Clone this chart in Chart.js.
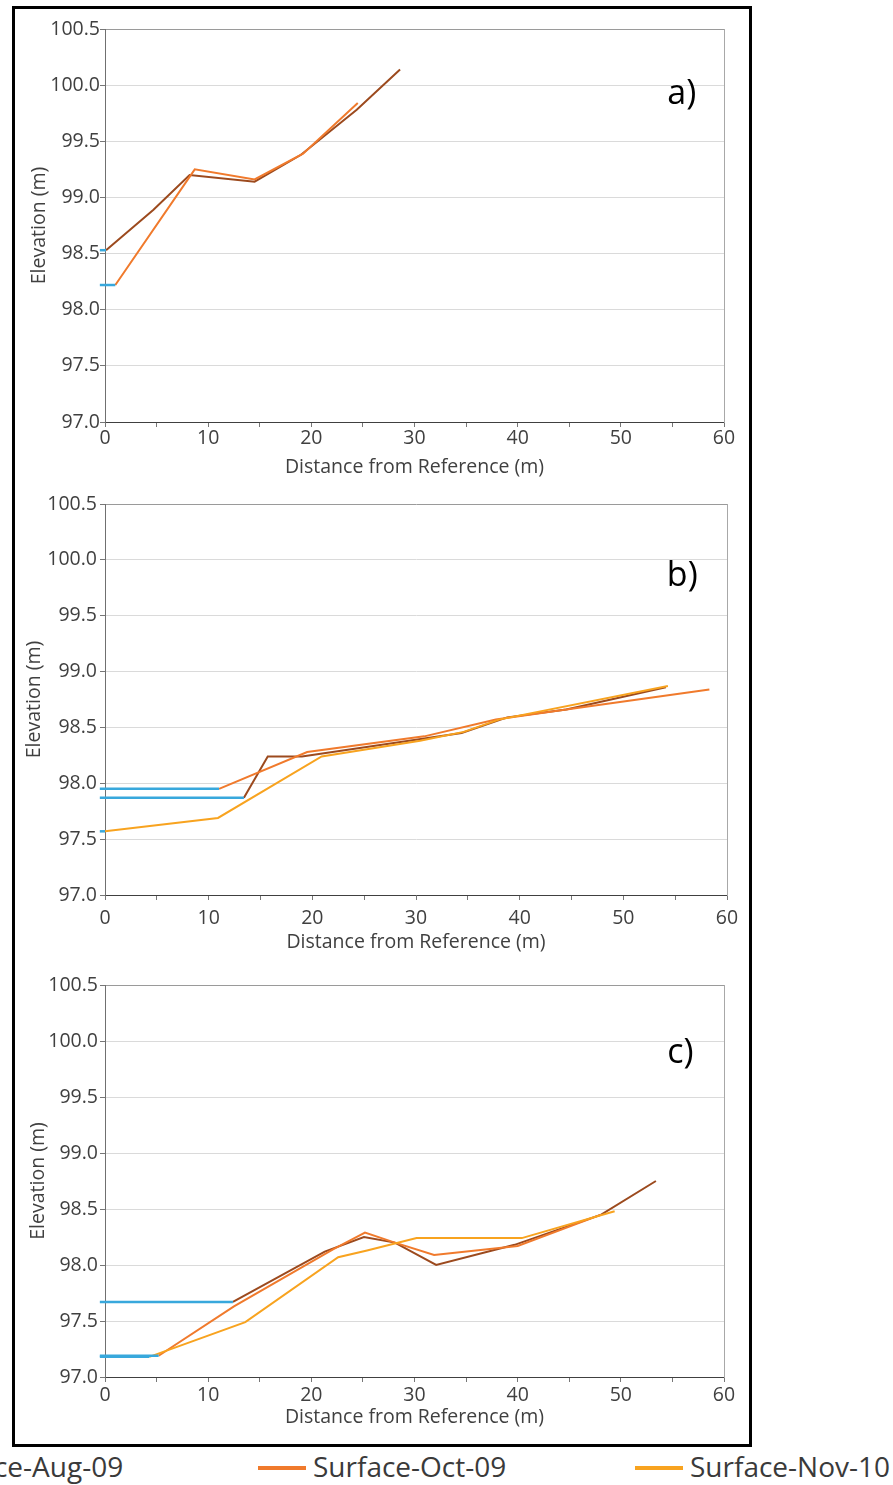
<!DOCTYPE html>
<html>
<head>
<meta charset="utf-8">
<script src="https://cdn.jsdelivr.net/npm/chart.js@4.4.1/dist/chart.umd.min.js"></script>
<style>
  html, body { margin: 0; padding: 0; background: #fff; width: 893px; height: 1485px; overflow: hidden; position: relative; }
  #frame { position: absolute; left: 12px; top: 6px; width: 734px; height: 1435px; border: 3px solid #000; }
  canvas { position: absolute; left: 16px; }
  .lg-line { position: absolute; top: 1466px; width: 48px; height: 4px; }
  .lg-text { position: absolute; top: 1450px; font: 28px/1.2 'Open Sans', sans-serif; color: #3a3a3a; white-space: nowrap; }
</style>
</head>
<body>
<div id="frame"></div>
<canvas id="chartA" width="732" height="478" style="top:10px"></canvas>
<canvas id="chartB" width="732" height="482" style="top:488px"></canvas>
<canvas id="chartC" width="732" height="474" style="top:970px"></canvas>
<div id="legend"></div>
<script>
const seriesNames = ['Surface-Aug-09', 'Surface-Oct-09', 'Surface-Nov-10'];
const seriesColors = ['#9c4a1e', '#f07a2c', '#f8a31f'];
const waterColor = '#38a8dc';
const waterStartX = -0.5;   // water line starts just behind the reference pin

const distRange = [0, 60];
const elevRange = [97, 100.5];

// a)
const distA_Aug = [0.1, 4.7, 8.2, 14.5, 19.0, 24.4, 28.6];
const elevA_Aug = [98.53, 98.89, 99.20, 99.14, 99.38, 99.78, 100.14];
const distA_Oct = [1.0, 8.7, 14.5, 19.2, 24.5];
const elevA_Oct = [98.22, 99.25, 99.16, 99.39, 99.84];

// b)
const distB_Aug = [13.4, 15.7, 19.0, 30.8, 34.4, 38.8, 44.5, 54.1];
const elevB_Aug = [97.87, 98.24, 98.24, 98.40, 98.45, 98.59, 98.66, 98.86];
const distB_Oct = [11.0, 19.5, 30.8, 37.7, 44.5, 58.3];
const elevB_Oct = [97.95, 98.28, 98.42, 98.57, 98.66, 98.84];
const distB_Nov = [0, 10.9, 20.9, 30.4, 34.6, 38.0, 54.3];
const elevB_Nov = [97.57, 97.69, 98.24, 98.38, 98.46, 98.57, 98.87];

// c)
const distC_Aug = [12.4, 21.3, 25.1, 28.1, 32.1, 39.7, 48.1, 53.4];
const elevC_Aug = [97.67, 98.12, 98.25, 98.20, 98.00, 98.18, 98.45, 98.75];
const distC_Oct = [5.2, 12.5, 22.1, 25.2, 28.1, 31.9, 40.0, 48.1];
const elevC_Oct = [97.19, 97.63, 98.14, 98.29, 98.20, 98.09, 98.17, 98.45];
const distC_Nov = [4.3, 13.6, 22.6, 25.4, 30.2, 40.4, 49.4];
const elevC_Nov = [97.18, 97.49, 98.07, 98.13, 98.24, 98.24, 98.48];

const FONT = "'Open Sans', sans-serif";
Chart.defaults.font.family = FONT;
Chart.defaults.color = '#404040';

// draws the "a)", "b)", "c)" tag inside the plot
const panelLabel = {
    id: 'panelLabel',
    afterDraw(chart, args, opts) {
        const { ctx, scales } = chart;
        ctx.save();
        ctx.font = '34px ' + FONT;
        ctx.fillStyle = '#000';
        ctx.textBaseline = 'alphabetic';
        ctx.fillText(opts.text, scales.x.getPixelForValue(opts.x), scales.y.getPixelForValue(opts.y));
        ctx.restore();
    }
};

function toPoints(xs, ys) {
    return xs.map((x, i) => ({ x: x, y: ys[i] }));
}

function makeChart(id, series, L) {
    const datasets = [];
    series.forEach(s => {
        const idx = s.idx;
        datasets.push({
            label: seriesNames[idx],
            data: toPoints(s.x, s.y),
            borderColor: seriesColors[idx],
            borderWidth: 2,
            order: 3 - idx
        });
        // water surface up to the first surveyed point
        datasets.push({
            label: 'Water ' + seriesNames[idx],
            data: [{ x: waterStartX, y: s.y[0] }, { x: s.x[0], y: s.y[0] }],
            borderColor: waterColor,
            borderWidth: 2.5,
            clip: false,
            order: 0
        });
    });

    return new Chart(document.getElementById(id), {
        type: 'scatter',
        data: { datasets: datasets },
        plugins: [panelLabel],
        options: {
            responsive: false,
            animation: false,
            showLine: true,
            elements: { point: { radius: 0, hoverRadius: 0 }, line: { tension: 0 } },
            layout: { padding: { top: L.top, right: L.right, left: 0, bottom: 0 } },
            plugins: {
                legend: { display: false },
                tooltip: { enabled: false },
                panelLabel: L.label
            },
            scales: {
                x: {
                    type: 'linear',
                    min: distRange[0], max: distRange[1],
                    afterFit: s => { s.height = L.xHeight; },
                    ticks: {
                        stepSize: 5, autoSkip: false, maxRotation: 0,
                        padding: L.xTickPad,
                        font: { size: 19.5 },
                        callback: v => (v % 10 === 0 ? String(v) : '')
                    },
                    grid: { drawOnChartArea: false, tickLength: 5, color: '#777' },
                    border: { color: '#404040' },
                    title: {
                        display: true, text: 'Distance from Reference (m)',
                        font: { size: 19.5 }, padding: { top: 0, bottom: L.xTitlePad }
                    }
                },
                y: {
                    type: 'linear',
                    min: elevRange[0], max: elevRange[1],
                    afterFit: s => { s.width = L.yWidth; },
                    ticks: {
                        stepSize: 0.5, padding: L.yTickPad,
                        font: { size: 19.5 },
                        callback: v => v.toFixed(1)
                    },
                    grid: {
                        tickLength: 5, tickColor: '#777',
                        color: c => (c.tick && c.tick.value === elevRange[1] ? '#9a9a9a' : '#dadada')
                    },
                    border: { color: '#707070' },
                    title: {
                        display: true, text: 'Elevation (m)',
                        font: { size: 19.5 }, padding: { top: L.yTitlePad, bottom: 0 }
                    }
                },
                yRight: {
                    position: 'right',
                    afterFit: s => { s.width = 0; },
                    ticks: { display: false },
                    grid: { drawOnChartArea: false, drawTicks: false },
                    border: { color: '#a8a8a8' }
                }
            }
        }
    });
}

makeChart('chartA', [
    { idx: 0, x: distA_Aug, y: elevA_Aug },
    { idx: 1, x: distA_Oct, y: elevA_Oct }
], { top: 19, right: 24, xHeight: 66, yWidth: 89, xTickPad: 0, yTickPad: 0, xTitlePad: 9, yTitlePad: 12,
     label: { text: 'a)', x: 54.5, y: 99.83 } });

makeChart('chartB', [
    { idx: 0, x: distB_Aug, y: elevB_Aug },
    { idx: 1, x: distB_Oct, y: elevB_Oct },
    { idx: 2, x: distB_Nov, y: elevB_Nov }
], { top: 16, right: 21, xHeight: 75, yWidth: 89, xTickPad: 6.5, yTickPad: 3, xTitlePad: 16, yTitlePad: 7,
     label: { text: 'b)', x: 54.2, y: 99.77 } });

makeChart('chartC', [
    { idx: 0, x: distC_Aug, y: elevC_Aug },
    { idx: 1, x: distC_Oct, y: elevC_Oct },
    { idx: 2, x: distC_Nov, y: elevC_Nov }
], { top: 15, right: 24, xHeight: 67, yWidth: 89, xTickPad: 1.5, yTickPad: 2, xTitlePad: 15, yTitlePad: 11,
     label: { text: 'c)', x: 54.5, y: 99.80 } });

// shared legend under the frame (first entry runs off the left edge)
const legendLeft = [-130, 258, 635];
const legend = document.getElementById('legend');
seriesNames.forEach((name, i) => {
    const line = document.createElement('div');
    line.className = 'lg-line';
    line.style.left = legendLeft[i] + 'px';
    line.style.background = seriesColors[i];
    const txt = document.createElement('div');
    txt.className = 'lg-text';
    txt.style.left = (legendLeft[i] + 55) + 'px';
    txt.textContent = name;
    legend.appendChild(line);
    legend.appendChild(txt);
});
</script>
</body>
</html>
